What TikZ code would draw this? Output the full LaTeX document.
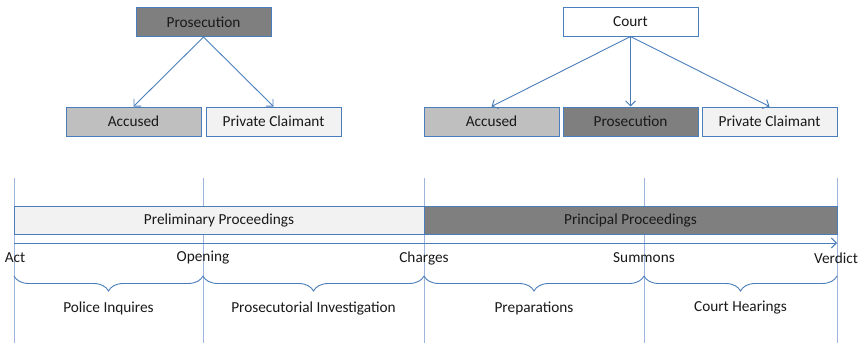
\documentclass[tikz,border=0pt]{standalone}
\usepackage{fontspec}
\setmainfont{Carlito}
\usetikzlibrary{arrows.meta,decorations.pathreplacing}
\definecolor{lineblue}{HTML}{4A7EBB}
\definecolor{vblue}{HTML}{9DB5DC}
\definecolor{darkfill}{HTML}{7F7F7F}
\definecolor{midfill}{HTML}{BFBFBF}
\definecolor{lightfill}{HTML}{F2F2F2}
\tikzset{
  box/.style={draw=lineblue, line width=1pt, minimum width=135pt, minimum height=29pt, inner sep=0pt, font=\fontsize{15.3}{17}\selectfont, text=black!90},
  conn/.style={draw=lineblue, line width=0.9pt, -{Straight Barb[length=5pt,width=10pt]}},
  vline/.style={draw=vblue, line width=0.6pt},
  lbl/.style={font=\fontsize{15.3}{17}\selectfont, text=black!90, inner sep=0pt},
  bracestyle/.style={draw=lineblue, line width=0.9pt, decorate, decoration={brace, mirror, amplitude=15pt}},
}
\begin{document}
\begin{tikzpicture}[x=1pt,y=-1pt]
\useasboundingbox (0,0) rectangle (862,343);
% vertical lines
\coordinate (t1) at (14,178); \coordinate (b1) at (14,343);
\coordinate (t2) at (203,178); \coordinate (b2) at (203,343);
\coordinate (t3) at (424,178); \coordinate (b3) at (424,343);
\coordinate (t4) at (644,178); \coordinate (b4) at (644,343);
\coordinate (t5) at (837,178); \coordinate (b5) at (837,343);
\foreach \i in {1,...,5} \draw[vline] (t\i) -- (b\i);
% top left
\node[box, fill=darkfill] (pros1) at (203.5,22) {Prosecution};
\node[box, fill=midfill] (acc1) at (133.5,121.5) {Accused};
\node[box, fill=lightfill] (pc1) at (273.5,121.5) {Private Claimant};
\draw[conn] (pros1.south) -- (acc1.north);
\draw[conn] (pros1.south) -- (pc1.north);
% top right
\node[box, fill=white] (court) at (630.5,21.5) {Court};
\node[box, fill=midfill] (acc2) at (491.5,121.5) {Accused};
\node[box, fill=darkfill] (pros2) at (630.5,121.5) {Prosecution};
\node[box, fill=lightfill] (pc2) at (769.5,121.5) {Private Claimant};
\draw[conn] (court.south) -- (acc2.north);
\draw[conn] (court.south) -- (pros2.north);
\draw[conn] (court.south) -- (pc2.north);
% bars
\node[box, fill=lightfill, minimum width=410pt, minimum height=28pt] (prelim) at (219,220) {Preliminary Proceedings};
\node[box, fill=darkfill, minimum width=413pt, minimum height=28pt] (princ) at (630.5,220) {Principal Proceedings};
% time arrow
\coordinate (as) at (14,243);
\coordinate (ae) at (837,243);
\draw[conn] (as) -- (ae);
% milestones
\node[lbl] (act) at (15,258) {Act};
\node[lbl] (open) at (203,258) {Opening};
\node[lbl] (charges) at (424,258) {Charges};
\node[lbl] (summ) at (644,258) {Summons};
\node[lbl] (verd) at (836,258) {Verdict};
% braces
\coordinate (c1) at (14,276);
\coordinate (c2) at (203,276);
\coordinate (c3) at (424,276);
\coordinate (c4) at (644,276);
\coordinate (c5) at (837,276);
\draw[bracestyle] (c1) -- (c2);
\draw[bracestyle] (c2) -- (c3);
\draw[bracestyle] (c3) -- (c4);
\draw[bracestyle] (c4) -- (c5);
\node[lbl] (pi) at (108.5,308) {Police Inquires};
\node[lbl] (pinv) at (313.5,308) {Prosecutorial Investigation};
\node[lbl] (prep) at (534,308) {Preparations};
\node[lbl] (ch) at (740.5,308) {Court Hearings};
\end{tikzpicture}
\end{document}
